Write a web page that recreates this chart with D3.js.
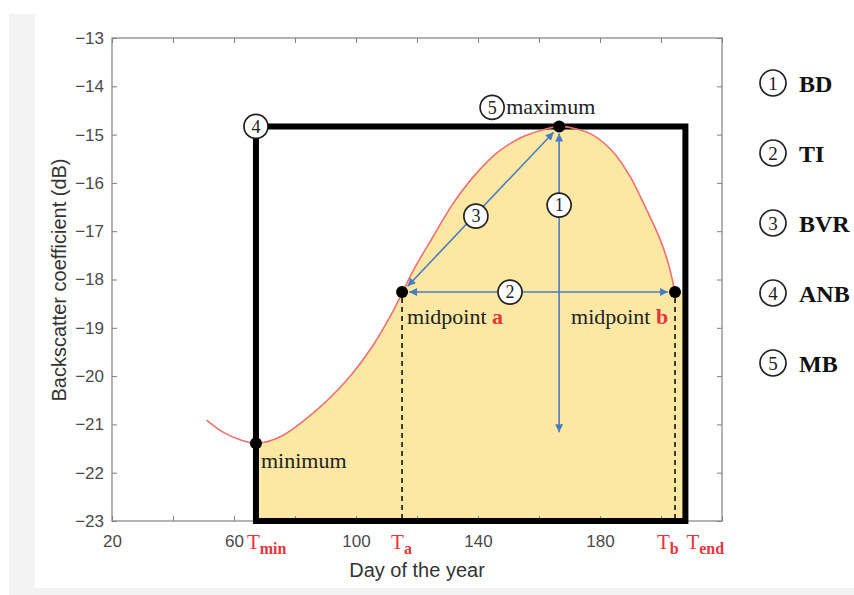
<!DOCTYPE html>
<html>
<head>
<meta charset="utf-8">
<script src="https://cdn.jsdelivr.net/npm/d3@7"></script>
<style>
  body { margin: 0; background: #ffffff; }
  svg { display: block; }
</style>
</head>
<body>
<div id="chart"></div>
<script>
// curve (day of year, backscatter dB)
var curveDays = [51, 56.4, 62, 67.2, 75, 86, 97, 105.6, 112, 115.1, 118.7, 125.2, 131.8, 138.4, 146.2, 153.8, 160.3, 166.6, 172, 177.7, 184.3, 189.8, 194.1, 198.7, 202, 204.6];
var curveValues = [-20.91, -21.16, -21.32, -21.39, -21.26, -20.76, -20.08, -19.36, -18.67, -18.28, -17.82, -17.12, -16.43, -15.88, -15.38, -15.07, -14.92, -14.83, -14.88, -15.01, -15.36, -15.86, -16.40, -17.02, -17.58, -18.26];

// key points: minimum, midpoint a, maximum, midpoint b
var keyNames = ["min", "a", "max", "b"];
var keyDays = [67.2, 115.1, 166.6, 204.6];
var keyValues = [-21.39, -18.26, -14.83, -18.26];
var tEnd = 208;
var bdBottom = -21.16;

var yTicks = [-13, -14, -15, -16, -17, -18, -19, -20, -21, -22, -23];
var xTicks = [20, 40, 60, 80, 100, 120, 140, 160, 180, 200, 220];
var xLabels = [20, 60, 100, 140, 180];

var legendNums = ["1", "2", "3", "4", "5"];
var legendNames = ["BD", "TI", "BVR", "ANB", "MB"];

function main() {
    const canvasWidth = 854;
    const canvasHeight = 595;
    var serif = "'Liberation Serif', 'Times New Roman', serif";
    var sans = "'Liberation Sans', Arial, sans-serif";
    var blue = "#4a7cc4";
    var red = "#e8343c";

    var svg = d3.select("#chart").append("svg")
        .attr("width", canvasWidth)
        .attr("height", canvasHeight);

    // grey frame around the figure
    svg.append("rect").attr("x", 9).attr("y", 14).attr("width", 845).attr("height", 581).style("fill", "#f3f3f3");
    svg.append("rect").attr("x", 35).attr("y", 0).attr("width", 819).attr("height", 588).style("fill", "#ffffff");

    var x = d3.scaleLinear().domain([20, 220]).range([112, 722]);
    var y = d3.scaleLinear().domain([-23, -13]).range([521, 38]);

    var pts = curveDays.map(function (d, i) { return [d, curveValues[i]]; });
    var kp = {};
    keyNames.forEach(function (n, i) { kp[n] = [keyDays[i], keyValues[i]]; });

    // yellow area from Tmin to Tend
    var fillPts = pts.filter(function (p) { return p[0] >= kp.min[0]; });
    var area = d3.area()
        .x(function (p) { return x(p[0]); })
        .y0(y(-23))
        .y1(function (p) { return y(p[1]); })
        .curve(d3.curveCatmullRom);
    svg.append("path")
        .attr("d", area(fillPts))
        .style("fill", "#fce8a2");
    svg.append("rect")
        .attr("x", x(kp.b[0]) - 0.5).attr("y", y(kp.b[1]))
        .attr("width", x(tEnd) - x(kp.b[0]) + 0.5).attr("height", y(-23) - y(kp.b[1]))
        .style("fill", "#fce8a2");

    // axes box
    svg.append("rect")
        .attr("x", x(20)).attr("y", y(-13))
        .attr("width", x(220) - x(20)).attr("height", y(-23) - y(-13))
        .style("fill", "none").style("stroke", "#808080").style("stroke-width", 1.2);

    svg.append("g")
        .attr("transform", "translate(" + x(20) + ",0)")
        .call(d3.axisLeft(y).tickValues(yTicks).tickSizeInner(-5).tickSizeOuter(0).tickPadding(8)
            .tickFormat(function (d) { return "\u2212" + Math.abs(d); }));
    svg.append("g")
        .attr("transform", "translate(" + x(220) + ",0)")
        .call(d3.axisRight(y).tickValues(yTicks).tickSizeInner(-5).tickSizeOuter(0).tickFormat(""));
    svg.append("g")
        .attr("transform", "translate(0," + y(-23) + ")")
        .call(d3.axisBottom(x).tickValues(xTicks).tickSizeInner(-5).tickSizeOuter(0).tickPadding(14)
            .tickFormat(function (d) { return xLabels.indexOf(d) >= 0 ? d : ""; }));
    svg.append("g")
        .attr("transform", "translate(0," + y(-13) + ")")
        .call(d3.axisTop(x).tickValues(xTicks).tickSizeInner(-5).tickSizeOuter(0).tickFormat(""));

    svg.selectAll(".domain").remove();
    svg.selectAll(".tick line").style("stroke", "#808080");
    svg.selectAll(".tick text")
        .style("font-family", sans)
        .style("font-size", "17px")
        .style("fill", "#4a4a4a");

    // axis titles
    svg.append("text")
        .text("Day of the year")
        .attr("x", 417).attr("y", 577)
        .attr("text-anchor", "middle")
        .style("font-family", sans).style("font-size", "20px").style("fill", "#333");
    svg.append("text")
        .text("Backscatter coefficient (dB)")
        .attr("transform", "translate(66,280) rotate(-90)")
        .attr("text-anchor", "middle")
        .style("font-family", sans).style("font-size", "20px").style("fill", "#333");

    // dashed drops at Ta and Tb
    ["a", "b"].forEach(function (n) {
        svg.append("line")
            .attr("x1", x(kp[n][0])).attr("x2", x(kp[n][0]))
            .attr("y1", y(kp[n][1]) + 6).attr("y2", y(-23))
            .style("stroke", "#111").style("stroke-width", 1.6).style("stroke-dasharray", "5,4");
    });

    // black box Tmin..Tend, floor..max
    svg.append("path")
        .attr("d", "M" + x(kp.min[0]) + "," + y(-23) + "V" + y(kp.max[1]) + "H" + x(tEnd) + "V" + y(-23) + "Z")
        .style("fill", "none").style("stroke", "#000").style("stroke-width", 6);

    // red curve
    var line = d3.line()
        .x(function (p) { return x(p[0]); })
        .y(function (p) { return y(p[1]); })
        .curve(d3.curveCatmullRom);
    svg.append("path")
        .attr("d", line(pts))
        .style("fill", "none").style("stroke", "#f07070").style("stroke-width", 1.6);

    // arrows
    svg.append("defs").append("marker")
        .attr("id", "head")
        .attr("viewBox", "0 0 10 10")
        .attr("refX", 10).attr("refY", 5)
        .attr("markerWidth", 10).attr("markerHeight", 8)
        .attr("markerUnits", "userSpaceOnUse")
        .attr("orient", "auto-start-reverse")
        .append("path").attr("d", "M0,0L10,5L0,10Z").style("fill", blue);

    function arrow(p1, p2, gap) {
        var x1 = x(p1[0]), y1 = y(p1[1]), x2 = x(p2[0]), y2 = y(p2[1]);
        var len = Math.hypot(x2 - x1, y2 - y1);
        var ux = (x2 - x1) / len, uy = (y2 - y1) / len;
        svg.append("line")
            .attr("x1", x1 + ux * gap[0]).attr("y1", y1 + uy * gap[0])
            .attr("x2", x2 - ux * gap[1]).attr("y2", y2 - uy * gap[1])
            .attr("marker-start", "url(#head)")
            .attr("marker-end", "url(#head)")
            .style("stroke", blue).style("stroke-width", 1.6);
    }
    arrow(kp.max, [kp.max[0], bdBottom], [7, 0]);
    arrow(kp.a, kp.b, [7, 7]);
    arrow(kp.a, kp.max, [8, 8]);

    // key points
    svg.selectAll("circle.key")
        .data(keyNames)
        .enter()
        .append("circle")
        .attr("class", "key")
        .attr("cx", function (n) { return x(kp[n][0]); })
        .attr("cy", function (n) { return y(kp[n][1]); })
        .attr("r", 6)
        .style("fill", "#000");

    function badge(cx, cy, label, r, size) {
        svg.append("circle")
            .attr("cx", cx).attr("cy", cy).attr("r", r)
            .style("fill", "#fff").style("stroke", "#222").style("stroke-width", 1.7);
        svg.append("text")
            .text(label)
            .attr("x", cx).attr("y", cy + size * 0.34)
            .attr("text-anchor", "middle")
            .style("font-family", serif).style("font-size", size + "px").style("fill", "#222");
    }
    var f3 = 0.47;
    badge(x(kp.max[0]), y(-16.46), "1", 12, 18);
    badge(x(150.5), y(kp.a[1]), "2", 12, 18);
    badge(x(kp.a[0] + f3 * (kp.max[0] - kp.a[0])), y(kp.a[1] + f3 * (kp.max[1] - kp.a[1])) + 2, "3", 12, 18);
    badge(x(kp.min[0]), y(kp.max[1]), "4", 12, 18);
    badge(x(kp.max[0]) - 67, y(kp.max[1]) - 19, "5", 12, 18);

    // annotations
    function note(tx, ty, a, b) {
        var t = svg.append("text")
            .attr("x", tx).attr("y", ty)
            .style("font-family", serif).style("font-size", "22px").style("fill", "#222");
        t.append("tspan").text(a);
        if (b) t.append("tspan").text(b).style("fill", red).style("font-weight", "bold");
    }
    note(x(kp.max[0]) - 53, y(kp.max[1]) - 12, "maximum");
    note(x(kp.min[0]) + 5, 468, "minimum");
    note(x(kp.a[0]) + 5, 324, "midpoint ", "a");
    note(x(kp.b[0]) - 104, 324, "midpoint ", "b");

    // T labels under the axis
    var tLabels = [["T", "min", kp.min[0], -9], ["T", "a", kp.a[0], -11], ["T", "b", kp.b[0], -18], ["T", "end", tEnd, 1]];
    tLabels.forEach(function (d) {
        var t = svg.append("text")
            .attr("x", x(d[2]) + d[3]).attr("y", 549)
            .style("font-family", serif).style("font-size", "21px").style("fill", red);
        t.append("tspan").text(d[0]);
        t.append("tspan").text(d[1]).attr("dy", 5).style("font-size", "16px").style("font-weight", "bold");
    });

    // legend
    legendNums.forEach(function (n, i) {
        var cy = 83 + i * 70;
        svg.append("circle")
            .attr("cx", 773).attr("cy", cy).attr("r", 13)
            .style("fill", "none").style("stroke", "#222").style("stroke-width", 1.7);
        svg.append("text")
            .text(n)
            .attr("x", 773).attr("y", cy + 6.5)
            .attr("text-anchor", "middle")
            .style("font-family", serif).style("font-size", "19px").style("fill", "#222");
        svg.append("text")
            .text(legendNames[i])
            .attr("x", 799).attr("y", cy + 9)
            .style("font-family", serif).style("font-size", "24px").style("font-weight", "bold").style("fill", "#111");
    });
}
main();
</script>
</body>
</html>
